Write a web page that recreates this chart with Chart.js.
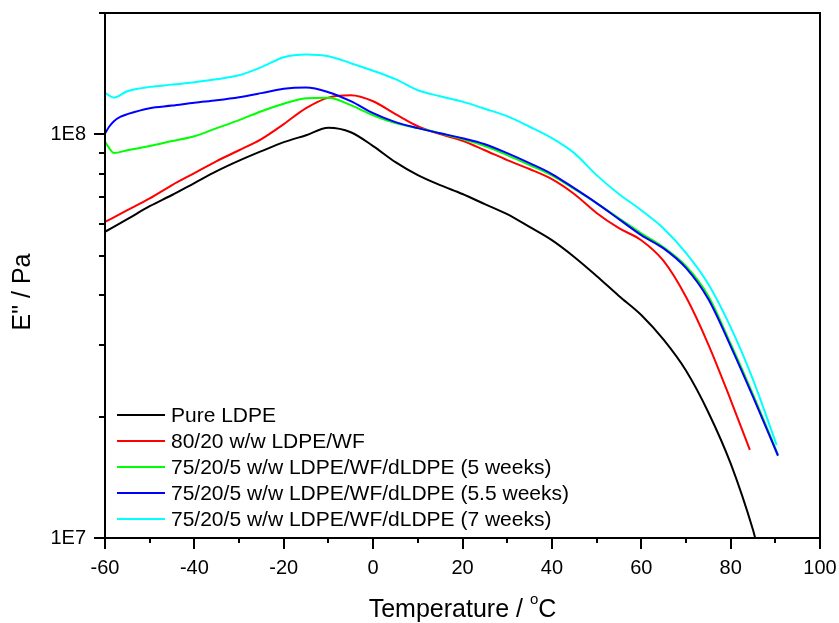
<!DOCTYPE html>
<html>
<head>
<meta charset="utf-8">
<script src="https://cdn.jsdelivr.net/npm/chart.js@4/dist/chart.umd.min.js"></script>
<style>
  html, body { margin: 0; padding: 0; background: #fff; }
  canvas { display: block; }
</style>
</head>
<body>
<canvas id="chart" width="839" height="623"></canvas>
<script>
// temperatures (°C) and loss modulus E'' (Pa)
const tPure = [-60,-55,-50,-45,-40,-35,-30,-25,-20,-15,-10,-5,0,5,10,15,20,25,30,35,40,45,50,55,60,65,70,75,80,85,85.5];
const ePure = [5.74e7,6.17e7,6.64e7,7.08e7,7.58e7,8.11e7,8.61e7,9.09e7,9.57e7,9.96e7,1.039e8,1.013e8,9.36e7,8.54e7,7.93e7,7.49e7,7.12e7,6.72e7,6.35e7,5.90e7,5.47e7,4.97e7,4.46e7,3.98e7,3.57e7,3.10e7,2.60e7,2.05e7,1.53e7,1.048e7,1.0e7];

const tWF = [-60,-55,-50,-45,-40,-35,-30,-25,-20,-15,-10,-5,0,5,10,15,20,25,30,35,40,45,50,55,60,65,70,75,80,84.3];
const eWF = [6.07e7,6.49e7,6.94e7,7.49e7,8.02e7,8.59e7,9.14e7,9.74e7,1.061e8,1.162e8,1.234e8,1.251e8,1.209e8,1.123e8,1.048e8,1.002e8,9.65e7,9.14e7,8.64e7,8.21e7,7.75e7,7.12e7,6.39e7,5.86e7,5.47e7,4.86e7,3.96e7,3.02e7,2.20e7,1.654e7];

const t5w = [-60,-58,-55,-50,-45,-40,-35,-30,-25,-20,-15,-10,-5,0,5,10,15,20,25,30,35,40,45,50,55,60,65,70,75,80,85,90.6];
const e5w = [9.59e7,9.00e7,9.14e7,9.36e7,9.63e7,9.90e7,1.037e8,1.085e8,1.142e8,1.192e8,1.230e8,1.234e8,1.182e8,1.116e8,1.067e8,1.037e8,1.007e8,9.74e7,9.36e7,8.89e7,8.40e7,7.92e7,7.33e7,6.76e7,6.20e7,5.69e7,5.25e7,4.72e7,3.98e7,3.03e7,2.27e7,1.608e7];

const t55w = [-60,-59,-58,-56.5,-55,-50,-45,-40,-35,-30,-25,-20,-15,-10,-5,0,5,10,15,20,25,30,35,40,45,50,55,60,65,70,75,80,85,90.6];
const e55w = [1.006e8,1.048e8,1.079e8,1.107e8,1.123e8,1.162e8,1.179e8,1.199e8,1.216e8,1.237e8,1.266e8,1.298e8,1.307e8,1.273e8,1.209e8,1.129e8,1.073e8,1.037e8,1.007e8,9.79e7,9.46e7,8.99e7,8.49e7,7.98e7,7.36e7,6.76e7,6.17e7,5.63e7,5.22e7,4.67e7,3.91e7,2.99e7,2.24e7,1.599e7];

const t7w = [-60,-58,-55,-50,-45,-40,-35,-30,-25,-20,-15,-10,-5,0,5,10,15,20,25,30,35,40,45,50,55,60,65,70,75,80,85,90.3];
const e7w = [1.268e8,1.234e8,1.280e8,1.312e8,1.329e8,1.348e8,1.371e8,1.402e8,1.468e8,1.554e8,1.578e8,1.563e8,1.502e8,1.439e8,1.371e8,1.287e8,1.244e8,1.206e8,1.158e8,1.110e8,1.045e8,9.79e7,8.99e7,7.93e7,7.12e7,6.49e7,5.85e7,5.09e7,4.26e7,3.33e7,2.47e7,1.70e7];

const seriesNames = [
  "Pure LDPE",
  "80/20 w/w LDPE/WF",
  "75/20/5 w/w LDPE/WF/dLDPE (5 weeks)",
  "75/20/5 w/w LDPE/WF/dLDPE (5.5 weeks)",
  "75/20/5 w/w LDPE/WF/dLDPE (7 weeks)"
];
const seriesColors = ["#000000", "#ff0000", "#00ff00", "#0000ff", "#00ffff"];

const yTicks = [1e7,2e7,3e7,4e7,5e7,6e7,7e7,8e7,9e7,1e8,2e8];
const xMinorTicks = [-60,-50,-40,-30,-20,-10,0,10,20,30,40,50,60,70,80,90,100];

const FONT = '"Liberation Sans", Arial, sans-serif';

const pts = (xs, ys) => xs.map((x, i) => ({ x: x, y: ys[i] }));
const allT = [tPure, tWF, t5w, t55w, t7w];
const allE = [ePure, eWF, e5w, e55w, e7w];

// frame, tick marks, legend and axis titles
const decor = {
  id: "decor",
  afterDraw(chart) {
    const ctx = chart.ctx, a = chart.chartArea;
    const xs = chart.scales.x, ys = chart.scales.y;
    ctx.save();
    ctx.strokeStyle = "#000";
    ctx.lineWidth = 2;
    ctx.beginPath();
    yTicks.forEach((v) => {
      const p = Math.round(ys.getPixelForValue(v));
      const len = (v === 1e7 || v === 1e8) ? 11 : 6;
      ctx.moveTo(a.left - len, p); ctx.lineTo(a.left, p);
    });
    xMinorTicks.forEach((v) => {
      const p = Math.round(xs.getPixelForValue(v));
      const len = (v % 20 === 0) ? 11 : 5;
      ctx.moveTo(p, a.bottom); ctx.lineTo(p, a.bottom + len);
    });
    ctx.stroke();
    ctx.strokeRect(a.left, a.top, a.right - a.left, a.bottom - a.top);

    // legend
    ctx.font = "21px " + FONT;
    ctx.textBaseline = "middle";
    ctx.textAlign = "left";
    chart.data.datasets.forEach((ds, i) => {
      const y = 415 + i * 26;
      ctx.strokeStyle = ds.borderColor;
      ctx.beginPath(); ctx.moveTo(117, y); ctx.lineTo(165, y); ctx.stroke();
      ctx.fillStyle = "#000";
      ctx.fillText(ds.label, 171, y + 1);
    });

    // x title with superscript o
    ctx.textBaseline = "alphabetic";
    ctx.font = "25px " + FONT;
    const main = "Temperature / ";
    const w1 = ctx.measureText(main).width;
    ctx.font = "15px " + FONT;
    const w2 = ctx.measureText("o").width;
    ctx.font = "25px " + FONT;
    const w3 = ctx.measureText("C").width;
    let x0 = (a.left + a.right) / 2 - (w1 + w2 + w3) / 2;
    ctx.fillText(main, x0, 617);
    ctx.font = "15px " + FONT;
    ctx.fillText("o", x0 + w1, 604);
    ctx.font = "25px " + FONT;
    ctx.fillText("C", x0 + w1 + w2, 617);

    // y title
    ctx.translate(23, 292);
    ctx.rotate(-Math.PI / 2);
    ctx.textAlign = "center";
    ctx.textBaseline = "middle";
    ctx.fillText('E" / Pa', 0, 0);
    ctx.restore();
  }
};

new Chart(document.getElementById("chart"), {
  type: "line",
  data: {
    datasets: seriesNames.map((name, i) => ({
      label: name,
      data: pts(allT[i], allE[i]),
      borderColor: seriesColors[i],
      borderWidth: 2,
      pointRadius: 0,
      fill: false,
      cubicInterpolationMode: "monotone",
      order: 5 - i
    }))
  },
  options: {
    responsive: false,
    animation: false,
    layout: { padding: { top: 13, right: 19, left: 0, bottom: 0 } },
    plugins: { legend: { display: false }, tooltip: { enabled: false } },
    scales: {
      x: {
        type: "linear", min: -60, max: 100,
        grid: { display: false, drawTicks: false },
        border: { display: false },
        ticks: { stepSize: 20, maxRotation: 0, color: "#000", padding: 18, font: { family: FONT, size: 20 } },
        afterFit: (s) => { s.height = 85; s.paddingLeft = 0; s.paddingRight = 0; }
      },
      y: {
        type: "logarithmic", min: 1e7, max: 2e8,
        grid: { display: false, drawTicks: false },
        border: { display: false },
        afterBuildTicks: (s) => { s.ticks = yTicks.map((v) => ({ value: v })); },
        ticks: {
          color: "#000", padding: 19, font: { family: FONT, size: 20 },
          callback: (v) => v === 1e7 ? "1E7" : v === 1e8 ? "1E8" : ""
        },
        afterFit: (s) => { s.width = 105; s.paddingTop = 0; s.paddingBottom = 0; }
      }
    }
  },
  plugins: [decor]
});
</script>
</body>
</html>
